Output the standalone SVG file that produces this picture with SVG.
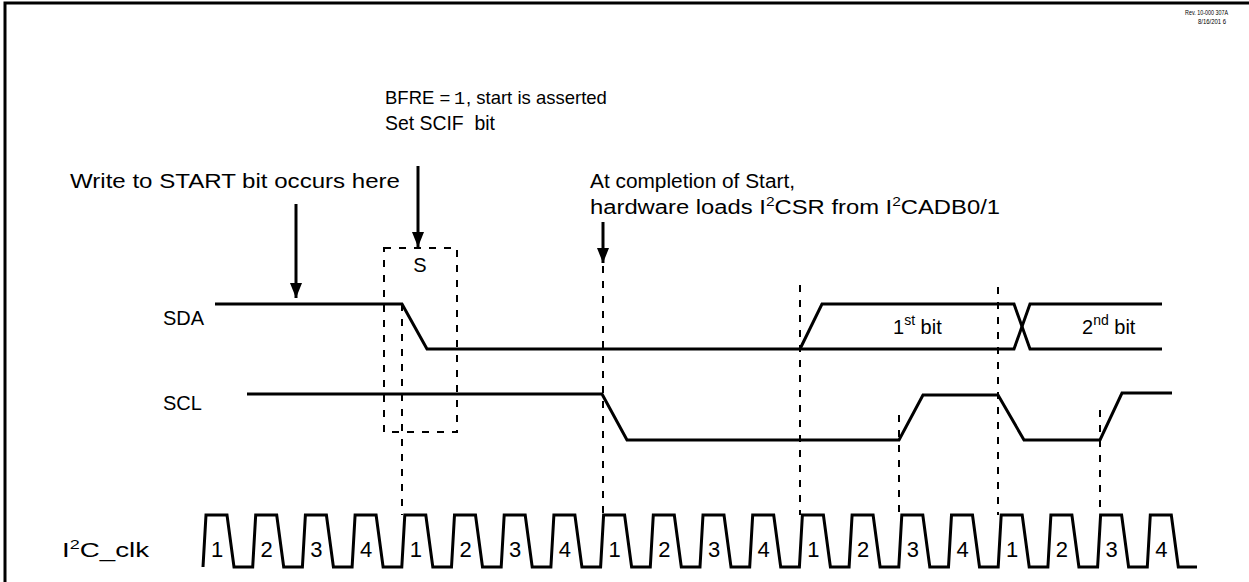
<svg xmlns="http://www.w3.org/2000/svg" width="1249" height="582" viewBox="0 0 1249 582">
<defs>
<marker id="ah" markerWidth="15" markerHeight="12" refX="15" refY="6" orient="auto" markerUnits="userSpaceOnUse" viewBox="0 0 15 12">
<path d="M0,0 L15,6 L0,12 Z" fill="#000"/>
</marker>
<style>
.t{font-family:"Liberation Sans",Arial,sans-serif;font-size:20px;fill:#000}
.mono{font-family:"Liberation Mono","Courier New",monospace}
.sm{font-family:"Liberation Sans",Arial,sans-serif;font-size:7px;fill:#000}
.w{fill:none;stroke:#000;stroke-width:3;stroke-linejoin:miter}
.d{fill:none;stroke:#000;stroke-width:2;stroke-dasharray:7 8}
.a{stroke:#000;stroke-width:3;fill:none}
.lab{text-anchor:middle}
.dig{font-size:22px}
.b18{font-size:18.5px}
</style>
</defs>
<rect x="0" y="0" width="1249" height="582" fill="#fff"/>
<path d="M5,600 V3 H1260" fill="none" stroke="#000" stroke-width="3"/>

<g id="rev">
<text class="sm" x="1228" y="15" text-anchor="end" textLength="43" lengthAdjust="spacingAndGlyphs">Rev. 10-000 307A</text>
<text class="sm" x="1226" y="24" text-anchor="end" textLength="28" lengthAdjust="spacingAndGlyphs">8/16/201 6</text>
</g>

<g id="note-bfre">
<text class="t b18" x="385" y="104">BFRE =</text>
<text class="t mono b18" x="454" y="104">1</text>
<text class="t b18" x="466" y="104">, start is asserted</text>
<text class="t" x="385" y="130" xml:space="preserve" textLength="110" lengthAdjust="spacingAndGlyphs">Set SCIF  bit</text>
</g>
<g id="note-write">
<text class="t" x="70" y="188" textLength="330" lengthAdjust="spacingAndGlyphs">Write to START bit occurs here</text>
</g>
<g id="note-completion">
<text class="t" x="590" y="188" textLength="205" lengthAdjust="spacingAndGlyphs">At completion of Start,</text>
<text class="t" x="590" y="214" textLength="410" lengthAdjust="spacingAndGlyphs">hardware loads I<tspan dy="-8" font-size="13">2</tspan><tspan dy="8">CSR from I</tspan><tspan dy="-8" font-size="13">2</tspan><tspan dy="8">CADB0/1</tspan></text>
</g>

<g id="labels">
<text class="t" x="163" y="325">SDA</text>
<text class="t" x="163" y="410">SCL</text>
<text class="t" x="62" y="557" textLength="87" lengthAdjust="spacingAndGlyphs">I<tspan dy="-8" font-size="13">2</tspan><tspan dy="8">C_clk</tspan></text>
<text class="t lab" x="420" y="272">S</text>
<text class="t" x="893" y="334" font-size="21">1<tspan dy="-9" font-size="14">st</tspan><tspan dy="9"> bit</tspan></text>
<text class="t" x="1082" y="334" font-size="21">2<tspan dy="-9" font-size="14">nd</tspan><tspan dy="9"> bit</tspan></text>
</g>

<g id="connectors">
<line class="a" x1="296" y1="204" x2="296" y2="298" marker-end="url(#ah)"/>
<line class="a" x1="418" y1="166" x2="418" y2="247" marker-end="url(#ah)"/>
<line class="a" x1="603" y1="222" x2="603" y2="263" marker-end="url(#ah)"/>
</g>

<g id="guides">
<rect class="d" x="384" y="248" width="73" height="184"/>
<line class="d" x1="402" y1="304" x2="402" y2="515"/>
<line class="d" x1="603" y1="266" x2="603" y2="515"/>
<line class="d" x1="800" y1="285" x2="800" y2="515"/>
<line class="d" x1="998" y1="287" x2="998" y2="515"/>
<line class="d" x1="899" y1="415" x2="899" y2="515"/>
<line class="d" x1="1100" y1="410" x2="1100" y2="515"/>
</g>

<g id="sda">
<path class="w" d="M215,304 H402 L427,349 H1014 L1030,304 H1162"/>
<path class="w" d="M800,349 L822,304 H1014 L1030,349 H1162"/>
</g>

<g id="scl">
<path class="w" d="M247,394 H602 L627,440 H899 L923,395 H998 L1024,440 H1100 L1122,393 H1172"/>
</g>

<g id="clk">
<path class="w" d="M203,567 L206,515 H227 L234,567 H252.7 L255.7,515 H276.7 L283.7,567 H302.4 L305.4,515 H326.4 L333.4,567 H352.1 L355.1,515 H376.1 L383.1,567 H401.8 L404.8,515 H425.8 L432.8,567 H451.5 L454.5,515 H475.5 L482.5,567 H501.2 L504.2,515 H525.2 L532.2,567 H550.9 L553.9,515 H574.9 L581.9,567 H600.6 L603.6,515 H624.6 L631.6,567 H650.3 L653.3,515 H674.3 L681.3,567 H700 L703,515 H724 L731,567 H749.7 L752.7,515 H773.7 L780.7,567 H799.4 L802.4,515 H823.4 L830.4,567 H849.1 L852.1,515 H873.1 L880.1,567 H898.8 L901.8,515 H922.8 L929.8,567 H948.5 L951.5,515 H972.5 L979.5,567 H998.2 L1001.2,515 H1022.2 L1029.2,567 H1047.9 L1050.9,515 H1071.9 L1078.9,567 H1097.6 L1100.6,515 H1121.6 L1128.6,567 H1147.3 L1150.3,515 H1171.3 L1178.3,567 H1197"/>
<g class="t lab dig">
<text x="217" y="557">1</text><text x="266.7" y="557">2</text><text x="316.4" y="557">3</text><text x="366.1" y="557">4</text>
<text x="415.8" y="557">1</text><text x="465.5" y="557">2</text><text x="515.2" y="557">3</text><text x="564.9" y="557">4</text>
<text x="614.6" y="557">1</text><text x="664.3" y="557">2</text><text x="714" y="557">3</text><text x="763.7" y="557">4</text>
<text x="813.4" y="557">1</text><text x="863.1" y="557">2</text><text x="912.8" y="557">3</text><text x="962.5" y="557">4</text>
<text x="1012.2" y="557">1</text><text x="1061.9" y="557">2</text><text x="1111.6" y="557">3</text><text x="1161.3" y="557">4</text>
</g>
</g>
</svg>
